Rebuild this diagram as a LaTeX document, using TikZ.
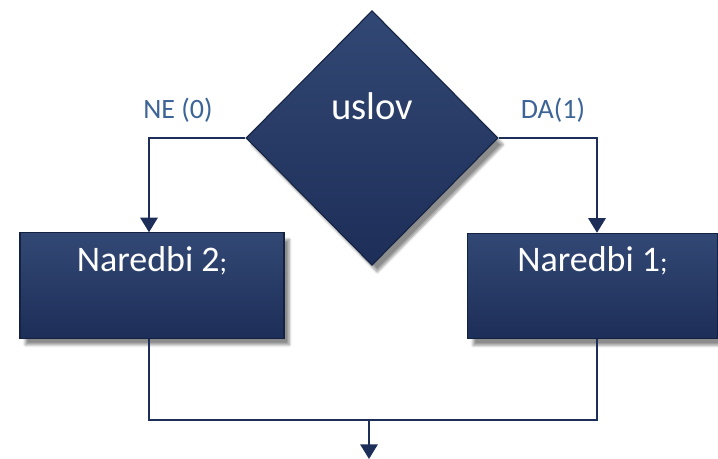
\documentclass[tikz,border=0pt]{standalone}
\usepackage{fontspec}
\setmainfont{Carlito}
\usetikzlibrary{shapes.geometric, shadows, shadows.blur, arrows.meta}

\definecolor{navy}{RGB}{29,46,88}
\definecolor{navytop}{RGB}{50,72,116}
\definecolor{navyedge}{RGB}{20,34,66}
\definecolor{labelblue}{RGB}{60,100,150}

\begin{document}
\begin{tikzpicture}[x=0.75pt, y=-0.75pt, >={Triangle[width=13pt,length=11pt]},
  line cap=butt]

% --- styles ---
\tikzset{
  block/.style={rectangle, top color=navytop, bottom color=navy, draw=navyedge,
    line width=0.8pt, text=white, inner sep=0pt, minimum width=198pt,
    text height=29pt, text depth=50pt, font=\fontsize{27}{30}\selectfont,
    blur shadow={shadow blur steps=8, shadow xshift=4pt, shadow yshift=-5pt, shadow opacity=45}},
  cond/.style={diamond, aspect=1, top color=navytop, bottom color=navy, draw=navyedge,
    line width=0.8pt, text=white, inner sep=0pt, minimum width=189pt, minimum height=191pt,
    text height=18pt, text depth=45pt, font=\fontsize{29}{32}\selectfont,
    blur shadow={shadow blur steps=8, shadow xshift=4pt, shadow yshift=-5pt, shadow opacity=45}},
  wire/.style={draw=navy, line width=1.6pt},
  lbl/.style={text=labelblue, font=\fontsize{21}{24}\selectfont}
}

\useasboundingbox (0,0) rectangle (718,459);

% --- shapes ---
\node[cond] (uslov) at (372,138) {uslov};
\node[block] (nar2) at (152,285.5) {Naredbi 2\fontsize{21}{22}\selectfont;};
\node[block, minimum width=187pt] (nar1) at (592.5,286) {Naredbi 1\fontsize{21}{22}\selectfont;};

% --- helper points ---
\coordinate (merge) at (369,420);
\coordinate (out) at (369,459);

% --- branches ---
\draw[wire, ->] (uslov.west) -| (nar2.north -| 149,0);
\draw[wire, ->] (uslov.east) -| (nar1.north -| 597,0);
\node[lbl] (ne) at (178,110) {NE (0)};
\node[lbl] (da) at (553,110) {DA(1)};

% --- join ---
\draw[wire] (nar2.south -| 149,0) |- (merge) -| (nar1.south -| 597,0);
\draw[wire, ->] (merge) -- (out);

\end{tikzpicture}
\end{document}
